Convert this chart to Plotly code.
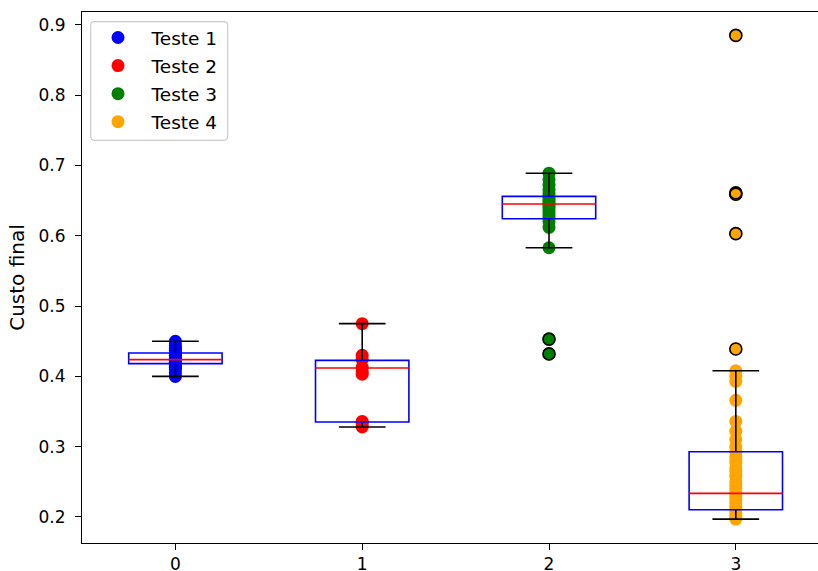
import plotly.graph_objects as go

# ---- data ----
positions = [0, 1, 2, 3]
names = ["Teste 1", "Teste 2", "Teste 3", "Teste 4"]
colors = ["blue", "red", "green", "orange"]

teste1 = [0.400, 0.405, 0.410, 0.413, 0.416, 0.418, 0.419, 0.420, 0.421, 0.422,
          0.423, 0.424, 0.425, 0.426, 0.428, 0.430, 0.432, 0.434, 0.437, 0.440,
          0.444, 0.450]
teste2 = [0.475, 0.430, 0.424, 0.413, 0.407, 0.403, 0.336, 0.333, 0.328]
teste3 = [0.689, 0.680, 0.672, 0.665, 0.660, 0.656, 0.652, 0.648, 0.645, 0.642,
          0.638, 0.634, 0.630, 0.625, 0.620, 0.612, 0.583, 0.453, 0.432]
teste4 = [0.885, 0.661, 0.659, 0.603, 0.439, 0.408, 0.400, 0.393, 0.366, 0.336,
          0.322, 0.310, 0.300, 0.292, 0.285, 0.278, 0.270, 0.265, 0.258, 0.250,
          0.245, 0.240, 0.235, 0.230, 0.225, 0.220, 0.215, 0.210, 0.205, 0.200,
          0.197]

# box statistics
q1 = [0.4181, 0.3351, 0.6243, 0.2104]
median = [0.4238, 0.4119, 0.6452, 0.2336]
q3 = [0.4333, 0.4228, 0.6560, 0.2929]
lower_whisker = [0.400, 0.328, 0.583, 0.197]
upper_whisker = [0.450, 0.475, 0.689, 0.408]

y_ticks = [0.2, 0.3, 0.4, 0.5, 0.6, 0.7, 0.8, 0.9]

series = [teste1, teste2, teste3, teste4]

BOX_W = 0.5
CAP_W = 0.25

W, H = 818, 571
ML, MR, MT, MB = 82, 0, 12, 28
PW, PH = W - ML - MR, H - MT - MB


def px_x(px):
    return (px - ML) / PW


def px_y(py):
    return 1 - (py - MT) / PH


fig = go.Figure()

for pos, name, col, vals in zip(positions, names, colors, series):
    fig.add_trace(go.Scatter(
        x=[pos] * len(vals), y=vals, mode="markers",
        name="\u00a0\u00a0\u200a" + name,
        legendgroup=name,
        marker=dict(color=col, size=13, line=dict(width=0)),
        hoverinfo="y",
    ))

# fliers (values outside whiskers) as hollow black circles
for i, (pos, vals) in enumerate(zip(positions, series)):
    out = [v for v in vals if v > upper_whisker[i] + 1e-9 or v < lower_whisker[i] - 1e-9]
    if out:
        fig.add_trace(go.Scatter(
            x=[pos] * len(out), y=out, mode="markers", showlegend=False,
            marker=dict(symbol="circle-open", color="black", size=12,
                        line=dict(width=1.6, color="black")),
            hoverinfo="y",
        ))

shapes = []
for i, pos in enumerate(positions):
    shapes.append(dict(type="line", xref="x", yref="y", x0=pos, x1=pos,
                       y0=q3[i], y1=upper_whisker[i], line=dict(color="black", width=1.6)))
    shapes.append(dict(type="line", xref="x", yref="y", x0=pos, x1=pos,
                       y0=q1[i], y1=lower_whisker[i], line=dict(color="black", width=1.6)))
    for yv in (upper_whisker[i], lower_whisker[i]):
        shapes.append(dict(type="line", xref="x", yref="y", x0=pos - CAP_W / 2,
                           x1=pos + CAP_W / 2, y0=yv, y1=yv,
                           line=dict(color="black", width=1.6)))
    shapes.append(dict(type="rect", xref="x", yref="y", x0=pos - BOX_W / 2,
                       x1=pos + BOX_W / 2, y0=q1[i], y1=q3[i],
                       line=dict(color="blue", width=1.6), fillcolor="rgba(0,0,0,0)"))
    shapes.append(dict(type="line", xref="x", yref="y", x0=pos - BOX_W / 2,
                       x1=pos + BOX_W / 2, y0=median[i], y1=median[i],
                       line=dict(color="red", width=1.6)))

# rounded legend frame (matplotlib style)
lx0, lx1, ly0, ly1, r = 90.7, 227.7, 21.7, 140.3, 4.0
path = (
    f"M {px_x(lx0 + r)},{px_y(ly0)} L {px_x(lx1 - r)},{px_y(ly0)} "
    f"Q {px_x(lx1)},{px_y(ly0)} {px_x(lx1)},{px_y(ly0 + r)} "
    f"L {px_x(lx1)},{px_y(ly1 - r)} Q {px_x(lx1)},{px_y(ly1)} {px_x(lx1 - r)},{px_y(ly1)} "
    f"L {px_x(lx0 + r)},{px_y(ly1)} Q {px_x(lx0)},{px_y(ly1)} {px_x(lx0)},{px_y(ly1 - r)} "
    f"L {px_x(lx0)},{px_y(ly0 + r)} Q {px_x(lx0)},{px_y(ly0)} {px_x(lx0 + r)},{px_y(ly0)} Z"
)
shapes.append(dict(type="path", xref="paper", yref="paper", path=path,
                   line=dict(color="#cccccc", width=1.2),
                   fillcolor="rgba(255,255,255,0.8)", layer="above"))

fig.update_layout(
    width=W, height=H,
    margin=dict(l=ML, r=MR, t=MT, b=MB, autoexpand=False),
    paper_bgcolor="white", plot_bgcolor="white",
    font=dict(family="DejaVu Sans", size=17, color="black"),
    shapes=shapes,
    showlegend=True,
    legend=dict(x=px_x(98), y=px_y(19), xanchor="left", yanchor="top",
                bgcolor="rgba(0,0,0,0)", borderwidth=0,
                font=dict(size=18.5), tracegroupgap=1, itemsizing="trace"),
    xaxis=dict(range=[-0.5, 3.44], tickvals=positions, ticktext=[str(p) for p in positions],
               showgrid=False, zeroline=False, showline=True, linecolor="black",
               linewidth=1.2, mirror=True, ticks="outside", ticklen=6, tickwidth=1.2,
               tickcolor="black", automargin=False, ticklabelstandoff=-1),
    yaxis=dict(range=[0.163, 0.9183], tickvals=y_ticks,
               ticktext=[f"{v:.1f}" for v in y_ticks],
               showgrid=False, zeroline=False, showline=True, linecolor="black",
               linewidth=1.2, ticks="outside", ticklen=6, tickwidth=1.2,
               tickcolor="black", automargin=False, ticklabelstandoff=6,
               title=dict(text="Custo final", standoff=8)),
)

fig.write_html(
    "out.html",
    config={"displayModeBar": False},
    post_script="document.body.style.margin='0px';document.body.style.overflow='hidden';",
)
